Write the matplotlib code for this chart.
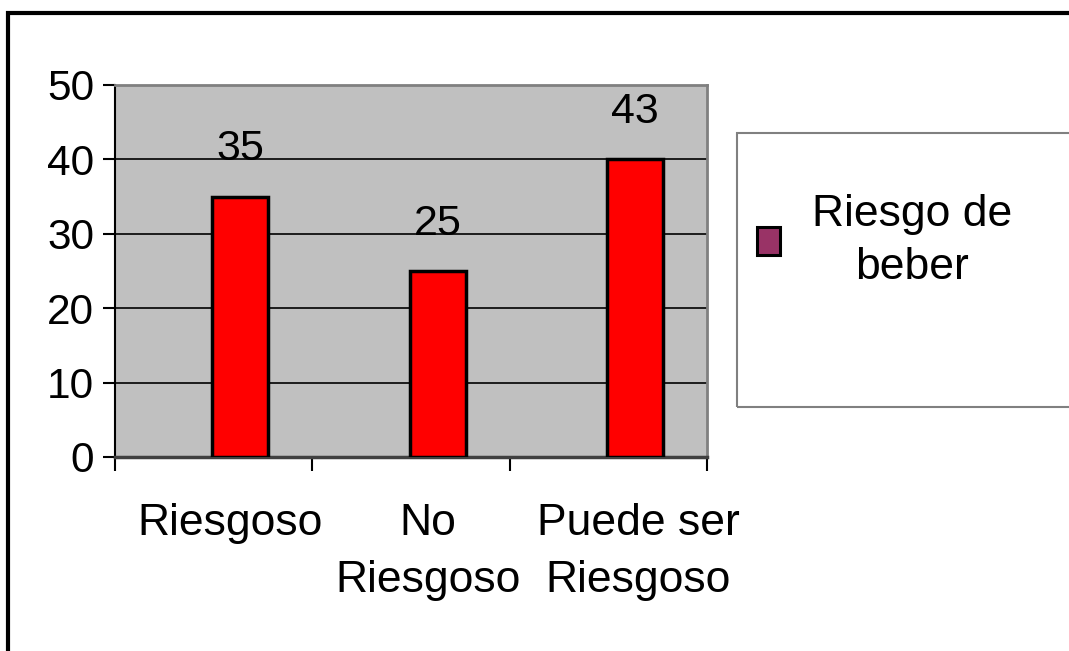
import matplotlib
matplotlib.use("Agg")
import matplotlib.pyplot as plt
from matplotlib.patches import Patch, Rectangle
import numpy as np

plt.rcParams['font.family'] = ['Liberation Sans', 'DejaVu Sans']

# datos
categorias = ["Riesgoso", "No\nRiesgoso", "Puede ser\nRiesgoso"]
valores = [35, 25, 40]
etiquetas = ["35", "25", "43"]
serie = "Riesgo de\nbeber"

# desplazamientos (como en el original de Excel)
desp_barra = 0.135
desp_texto = [0.085, 0.085, 0.15]

W, H = 1069, 651
fig = plt.figure(figsize=(W / 100, H / 100), dpi=100)
ax = fig.add_axes([115 / W, 1 - 457 / H, (707 - 115) / W, (457 - 85) / H])

x = np.arange(len(categorias))
ax.bar(x + desp_barra, valores, width=0.285, color="red", edgecolor="black",
       linewidth=2.5, zorder=3)

for xi, v, lab in zip(x, valores, etiquetas):
    ax.annotate(lab, (xi + desp_barra, v), xytext=(0, 34), textcoords="offset points",
                ha="center", va="center", fontsize=31)

ax.set_facecolor("#c0c0c0")
ax.set_xlim(-0.5, len(categorias) - 0.5)
ax.set_ylim(0, 50)
ax.set_yticks(np.arange(0, 51, 10))
ax.yaxis.grid(True, color="black", linewidth=1.2, zorder=1)
ax.set_axisbelow(True)

ax.set_xticks(x + np.array(desp_texto))
ax.set_xticklabels(categorias, fontsize=32, linespacing=1.5)
ax.set_xticks(np.arange(-0.5, len(categorias), 1.0), minor=True)
ax.tick_params(axis="x", which="major", length=0, pad=33)
ax.tick_params(axis="x", which="minor", length=10, width=1.5, direction="out")
ax.tick_params(axis="y", length=9, width=1.5, pad=6, labelsize=30.5)

for s in ["top", "right"]:
    ax.spines[s].set_color("#808080")
    ax.spines[s].set_linewidth(2)
ax.spines["left"].set_color("black")
ax.spines["left"].set_linewidth(1.5)
ax.spines["bottom"].set_color("#404040")
ax.spines["bottom"].set_linewidth(2.5)

# marco exterior y caja de la leyenda
fig.patches.append(Rectangle((8 / W, -0.05), 1.1, 1 - 13 / H + 0.05, transform=fig.transFigure,
                             fill=False, edgecolor="black", linewidth=3))
fig.patches.append(Rectangle((737 / W, 1 - 407 / H), 0.5, (407 - 133) / H, transform=fig.transFigure,
                             fill=False, edgecolor="#808080", linewidth=1.5))

leg = fig.legend(handles=[Patch(facecolor="#993366", edgecolor="black", linewidth=2.2)],
                 labels=[serie], loc="center left", bbox_to_anchor=(757 / W, 1 - 241 / H),
                 frameon=False, fontsize=32, borderpad=0, borderaxespad=0,
                 handlelength=0.52, handleheight=0.6, handletextpad=0.72)
for t in leg.get_texts():
    t.set_multialignment("center")
    t.set_linespacing(1.38)

fig.savefig("out.png", dpi=100)
